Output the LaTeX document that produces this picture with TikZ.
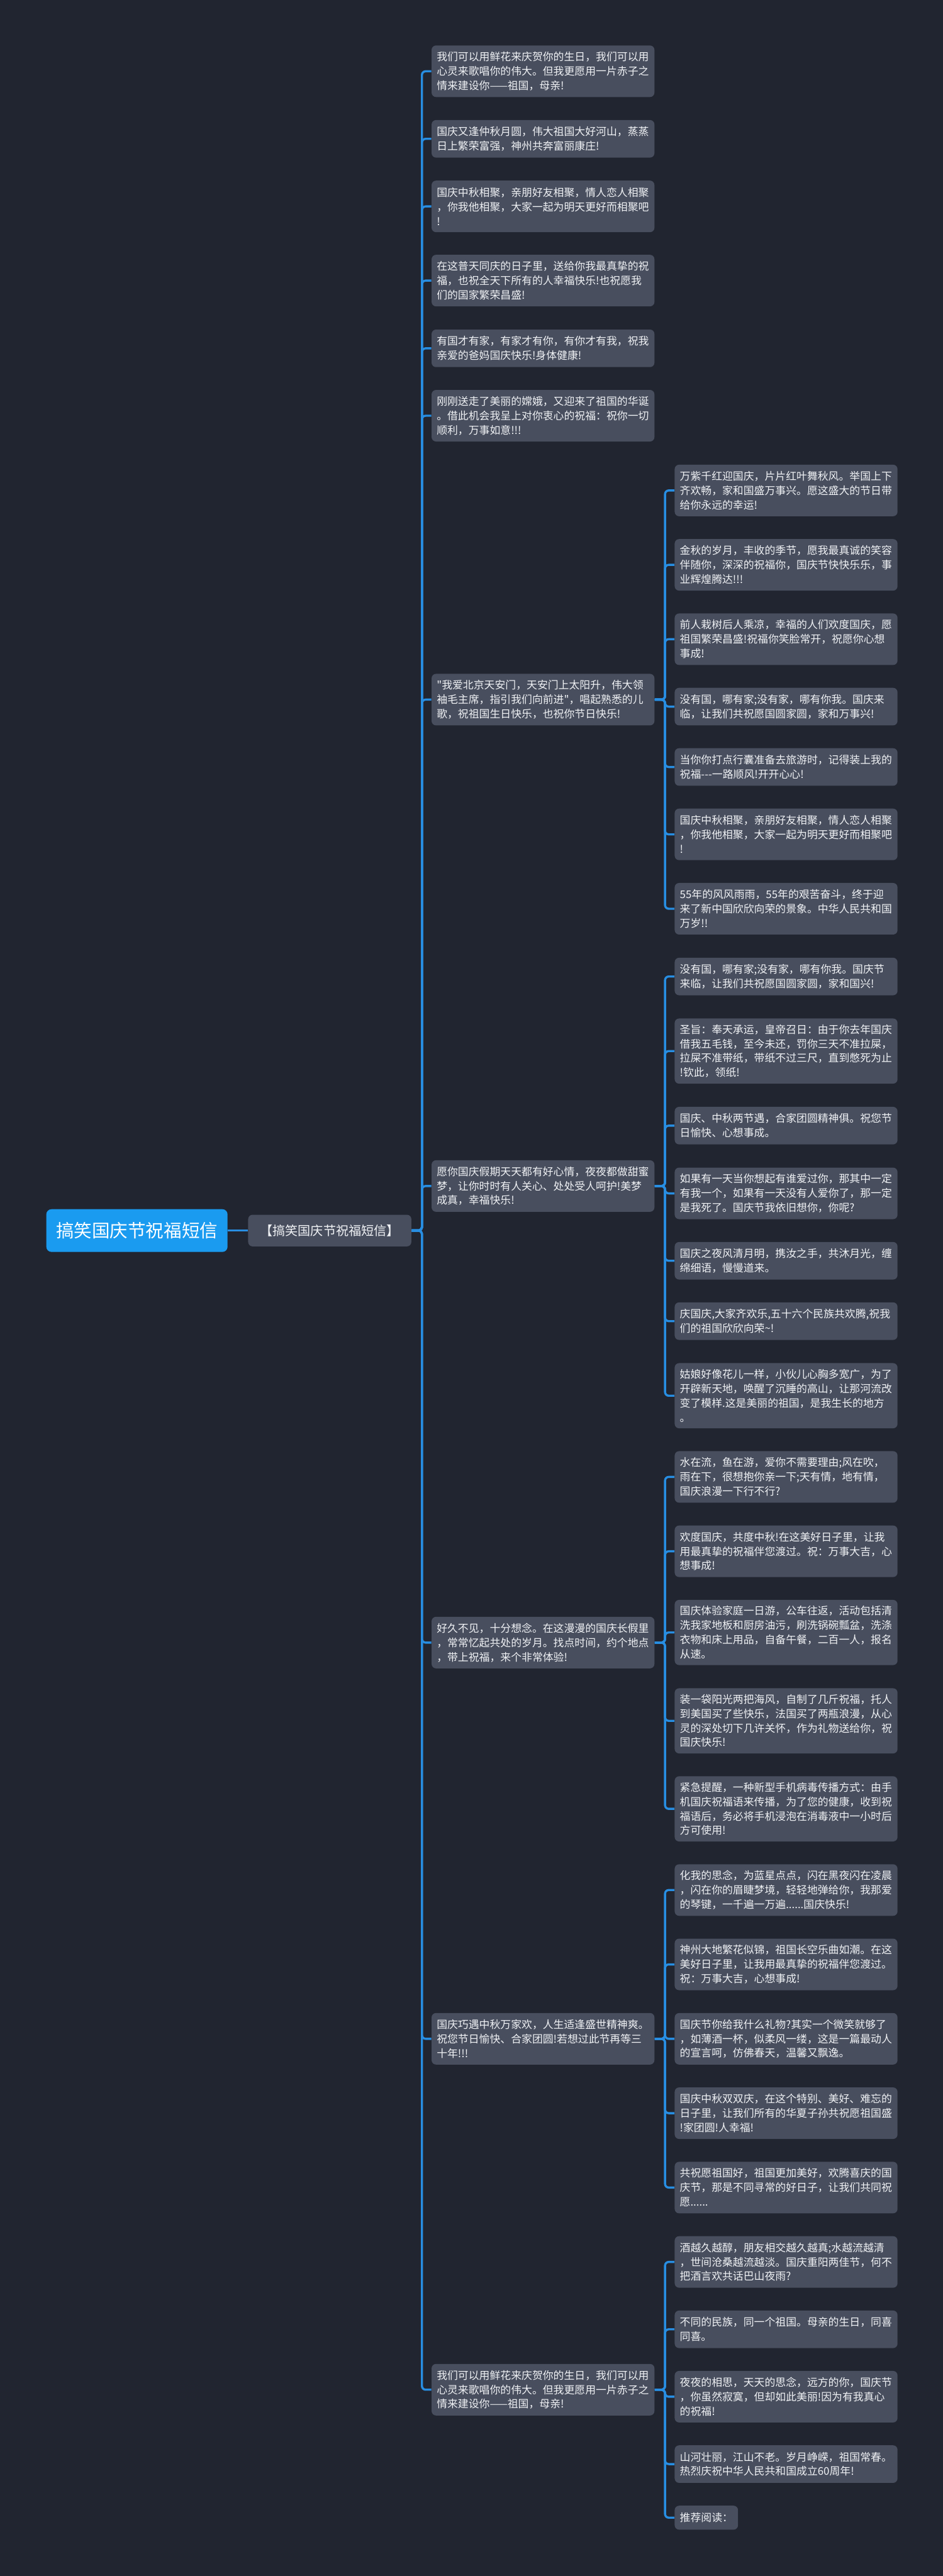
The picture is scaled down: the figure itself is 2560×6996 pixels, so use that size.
\documentclass[tikz,border=0pt]{standalone}
\usepackage{fontspec}
\newfontfamily\cjk{Noto Sans CJK SC}
\usepackage{xcolor}
\definecolor{bgdark}{RGB}{33,37,48}
\definecolor{boxgray}{RGB}{72,78,94}
\definecolor{rootblue}{RGB}{26,155,240}
\definecolor{linkblue}{RGB}{40,142,226}
\definecolor{textwhite}{RGB}{240,242,245}
\usepackage{tikz}
\usetikzlibrary{positioning}

\tikzset{
  link/.style={draw=linkblue, line width=1.45pt, rounded corners=2.5pt},
  bubble/.style={fill=boxgray, text=textwhite, rounded corners=3pt, anchor=west,
                 inner xsep=3.5pt, inner ysep=0pt, font=\cjk\fontsize{7.2}{9.75}\selectfont},
  msgbox/.style={bubble, align=left, text width=144.25pt},
  rows1/.style={minimum height=16.25pt},
  rows2/.style={minimum height=25.5pt},
  rows3/.style={minimum height=35pt},
  rows4/.style={minimum height=44.25pt},
  rootbox/.style={fill=rootblue, text=white, rounded corners=3.5pt, anchor=west,
                  minimum width=123pt, minimum height=29pt, inner sep=0pt,
                  font=\cjk\fontsize{12.2}{14}\selectfont},
  titlebox/.style={fill=boxgray, text=textwhite, rounded corners=3pt, anchor=west,
                   minimum width=110.75pt, minimum height=21.5pt, inner sep=0pt,
                   font=\cjk\fontsize{8.6}{10}\selectfont}
}

\begin{document}
\begin{tikzpicture}[x=0.25pt, y=-0.25pt]
  % Background
  \fill[bgdark] (0,0) rectangle (2560,6996);
  \useasboundingbox (0,0) rectangle (2560,6996);

  % Root and title
  \node[rootbox] (root) at (125,3342) {搞笑国庆节祝福短信};
  \node[titlebox] (title) at (673,3342) {【搞笑国庆节祝福短信】};

  % Level 2
  \node[msgbox, rows3] (t1) at (1171,193.5) {我们可以用鲜花来庆贺你的生日，我们可以用\\心灵来歌唱你的伟大。但我更愿用一片赤子之\\情来建设你——祖国，母亲!};
  \node[msgbox, rows2] (t2) at (1171,377) {国庆又逢仲秋月圆，伟大祖国大好河山，蒸蒸\\日上繁荣富强，神州共奔富丽康庄!};
  \node[msgbox, rows3] (t3) at (1171,560.5) {国庆中秋相聚，亲朋好友相聚，情人恋人相聚\\，你我他相聚，大家一起为明天更好而相聚吧\\!};
  \node[msgbox, rows3] (t4) at (1171,762) {在这普天同庆的日子里，送给你我最真挚的祝\\福，也祝全天下所有的人幸福快乐!也祝愿我\\们的国家繁荣昌盛!};
  \node[msgbox, rows2] (t5) at (1171,946) {有国才有家，有家才有你，有你才有我，祝我\\亲爱的爸妈国庆快乐!身体健康!};
  \node[msgbox, rows3] (t6) at (1171,1129) {刚刚送走了美丽的嫦娥，又迎来了祖国的华诞\\。借此机会我呈上对你衷心的祝福：祝你一切\\顺利，万事如意!!!};
  \node[msgbox, rows3] (t7) at (1171,1900) {"我爱北京天安门，天安门上太阳升，伟大领\\袖毛主席，指引我们向前进"，唱起熟悉的儿\\歌，祝祖国生日快乐，也祝你节日快乐!};
  \node[msgbox, rows3] (t8) at (1171,3221) {愿你国庆假期天天都有好心情，夜夜都做甜蜜\\梦，让你时时有人关心、处处受人呵护!美梦\\成真，幸福快乐!};
  \node[msgbox, rows3] (t9) at (1171,4461) {好久不见，十分想念。在这漫漫的国庆长假里\\，常常忆起共处的岁月。找点时间，约个地点\\，带上祝福，来个非常体验!};
  \node[msgbox, rows3] (t10) at (1171,5537) {国庆巧遇中秋万家欢，人生适逢盛世精神爽。\\祝您节日愉快、合家团圆!若想过此节再等三\\十年!!!};
  \node[msgbox, rows3] (t11) at (1171,6490) {我们可以用鲜花来庆贺你的生日，我们可以用\\心灵来歌唱你的伟大。但我更愿用一片赤子之\\情来建设你——祖国，母亲!};

  % Group 7
  \node[msgbox, rows3] (t7-1) at (1831,1332) {万紫千红迎国庆，片片红叶舞秋风。举国上下\\齐欢畅，家和国盛万事兴。愿这盛大的节日带\\给你永远的幸运!};
  \node[msgbox, rows3] (t7-2) at (1831,1534) {金秋的岁月，丰收的季节，愿我最真诚的笑容\\伴随你，深深的祝福你，国庆节快快乐乐，事\\业辉煌腾达!!!};
  \node[msgbox, rows3] (t7-3) at (1831,1736) {前人栽树后人乘凉，幸福的人们欢度国庆，愿\\祖国繁荣昌盛!祝福你笑脸常开，祝愿你心想\\事成!};
  \node[msgbox, rows2] (t7-4) at (1831,1919) {没有国，哪有家;没有家，哪有你我。国庆来\\临，让我们共祝愿国圆家圆，家和万事兴!};
  \node[msgbox, rows2] (t7-5) at (1831,2083) {当你你打点行囊准备去旅游时，记得装上我的\\祝福-{}-{}-一路顺风!开开心心!};
  \node[msgbox, rows3] (t7-6) at (1831,2266) {国庆中秋相聚，亲朋好友相聚，情人恋人相聚\\，你我他相聚，大家一起为明天更好而相聚吧\\!};
  \node[msgbox, rows3] (t7-7) at (1831,2468) {55年的风风雨雨，55年的艰苦奋斗，终于迎\\来了新中国欣欣向荣的景象。中华人民共和国\\万岁!!};

  % Group 8
  \node[msgbox, rows2] (t8-1) at (1831,2652) {没有国，哪有家;没有家，哪有你我。国庆节\\来临，让我们共祝愿国圆家圆，家和国兴!};
  \node[msgbox, rows4] (t8-2) at (1831,2854.5) {圣旨：奉天承运，皇帝召日：由于你去年国庆\\借我五毛钱，至今未还，罚你三天不准拉屎，\\拉屎不准带纸，带纸不过三尺，直到憋死为止\\!钦此，领纸!};
  \node[msgbox, rows2] (t8-3) at (1831,3057) {国庆、中秋两节遇，合家团圆精神俱。祝您节\\日愉快、心想事成。};
  \node[msgbox, rows3] (t8-4) at (1831,3241) {如果有一天当你想起有谁爱过你，那其中一定\\有我一个，如果有一天没有人爱你了，那一定\\是我死了。国庆节我依旧想你，你呢?};
  \node[msgbox, rows2] (t8-5) at (1831,3424) {国庆之夜风清月明，携汝之手，共沐月光，缠\\绵细语，慢慢道来。};
  \node[msgbox, rows2] (t8-6) at (1831,3588) {庆国庆,大家齐欢乐,五十六个民族共欢腾,祝我\\们的祖国欣欣向荣\textasciitilde!};
  \node[msgbox, rows4] (t8-7) at (1831,3790.5) {姑娘好像花儿一样，小伙儿心胸多宽广，为了\\开辟新天地，唤醒了沉睡的高山，让那河流改\\变了模样.这是美丽的祖国，是我生长的地方\\。};

  % Group 9
  \node[msgbox, rows3] (t9-1) at (1831,4011) {水在流，鱼在游，爱你不需要理由;风在吹，\\雨在下，很想抱你亲一下;天有情，地有情，\\国庆浪漫一下行不行?};
  \node[msgbox, rows3] (t9-2) at (1831,4213) {欢度国庆，共度中秋!在这美好日子里，让我\\用最真挚的祝福伴您渡过。祝：万事大吉，心\\想事成!};
  \node[msgbox, rows4] (t9-3) at (1831,4433.5) {国庆体验家庭一日游，公车往返，活动包括清\\洗我家地板和厨房油污，刷洗锅碗瓢盆，洗涤\\衣物和床上用品，自备午餐，二百一人，报名\\从速。};
  \node[msgbox, rows4] (t9-4) at (1831,4673.5) {装一袋阳光两把海风，自制了几斤祝福，托人\\到美国买了些快乐，法国买了两瓶浪漫，从心\\灵的深处切下几许关怀，作为礼物送给你，祝\\国庆快乐!};
  \node[msgbox, rows4] (t9-5) at (1831,4912.5) {紧急提醒，一种新型手机病毒传播方式：由手\\机国庆祝福语来传播，为了您的健康，收到祝\\福语后，务必将手机浸泡在消毒液中一小时后\\方可使用!};

  % Group 10
  \node[msgbox, rows3] (t10-1) at (1831,5133) {化我的思念，为蓝星点点，闪在黑夜闪在凌晨\\，闪在你的眉睫梦境，轻轻地弹给你，我那爱\\的琴键，一千遍一万遍......国庆快乐!};
  \node[msgbox, rows3] (t10-2) at (1831,5335) {神州大地繁花似锦，祖国长空乐曲如潮。在这\\美好日子里，让我用最真挚的祝福伴您渡过。\\祝：万事大吉，心想事成!};
  \node[msgbox, rows3] (t10-3) at (1831,5537) {国庆节你给我什么礼物?其实一个微笑就够了\\，如薄酒一杯，似柔风一缕，这是一篇最动人\\的宣言呵，仿佛春天，温馨又飘逸。};
  \node[msgbox, rows3] (t10-4) at (1831,5739) {国庆中秋双双庆，在这个特别、美好、难忘的\\日子里，让我们所有的华夏子孙共祝愿祖国盛\\!家团圆!人幸福!};
  \node[msgbox, rows3] (t10-5) at (1831,5941) {共祝愿祖国好，祖国更加美好，欢腾喜庆的国\\庆节，那是不同寻常的好日子，让我们共同祝\\愿......};

  % Group 11
  \node[msgbox, rows3] (t11-1) at (1831,6143) {酒越久越醇，朋友相交越久越真;水越流越清\\，世间沧桑越流越淡。国庆重阳两佳节，何不\\把酒言欢共话巴山夜雨?};
  \node[msgbox, rows2] (t11-2) at (1831,6326) {不同的民族，同一个祖国。母亲的生日，同喜\\同喜。};
  \node[msgbox, rows3] (t11-3) at (1831,6509) {夜夜的相思，天天的思念，远方的你，国庆节\\，你虽然寂寞，但却如此美丽!因为有我真心\\的祝福!};
  \node[msgbox, rows2] (t11-4) at (1831,6692) {山河壮丽，江山不老。岁月峥嵘，祖国常春。\\热烈庆祝中华人民共和国成立60周年!};
  \node[bubble, rows1] (t11-5) at (1831,6837.5) {推荐阅读：};

  % Connectors
  \draw[link] (root.east) -- (title.west);
  \foreach \n in {1,...,11}
    \draw[link] (title.east) -- ++(7pt,0) |- (t\n.west);
  \foreach \n in {1,...,7}
    \draw[link] (t7.east) -- ++(7pt,0) |- (t7-\n.west);
  \foreach \n in {1,...,7}
    \draw[link] (t8.east) -- ++(7pt,0) |- (t8-\n.west);
  \foreach \n in {1,...,5}
    \draw[link] (t9.east) -- ++(7pt,0) |- (t9-\n.west);
  \foreach \n in {1,...,5}
    \draw[link] (t10.east) -- ++(7pt,0) |- (t10-\n.west);
  \foreach \n in {1,...,5}
    \draw[link] (t11.east) -- ++(7pt,0) |- (t11-\n.west);
\end{tikzpicture}
\end{document}
